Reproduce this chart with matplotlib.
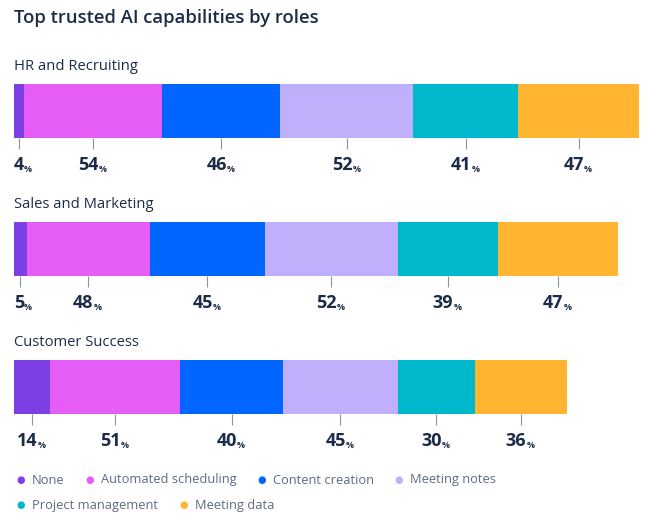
import numpy as np
import matplotlib.pyplot as plt

# data
roles = ['HR and Recruiting', 'Sales and Marketing', 'Customer Success']
capabilities = ['None', 'Automated scheduling', 'Content creation',
                'Meeting notes', 'Project management', 'Meeting data']
hr_values = [4, 54, 46, 52, 41, 47]
sales_values = [5, 48, 45, 52, 39, 47]
cs_values = [14, 51, 40, 45, 30, 36]

colors = ['#7b3fe4', '#e65cf6', '#0066ff', '#c0b0fb', '#00b8cc', '#ffb432']
dark = '#1b2b48'
grey = '#5f6b80'
plt.rcParams['font.family'] = ['Open Sans', 'DejaVu Sans']

fig = plt.figure(figsize=(6.72, 5.2), dpi=100)
fig.patch.set_facecolor('white')
# x in percent units, y in pixel-like layout units (top = 0)
ax = fig.add_axes([14 / 672, 0, 658 / 672, 1])
ax.set_xlim(0, 257)
ax.set_ylim(520, 0)
ax.axis('off')

fig.text(14 / 672, 1 - 18 / 520, 'Top trusted AI capabilities by roles',
         fontsize=13.3, fontweight='semibold', color=dark, va='center', ha='left')

bar_tops = [84, 222, 360]
bar_h = 54

for role, vals, top in zip(roles, [hr_values, sales_values, cs_values], bar_tops):
    ax.text(0, top - 17, role, fontsize=10.6, fontweight='medium', color=dark,
            va='center', ha='left')
    lefts = np.concatenate([[0], np.cumsum(vals)[:-1]])
    ax.barh(top, vals, left=lefts, height=bar_h, align='edge', color=colors,
            edgecolor='none')
    bottom = top + bar_h
    for v, l in zip(vals, lefts):
        cx = l + v / 2
        ax.vlines(cx, bottom, bottom + 11, color='#8a94a6', lw=0.8)
        if v < 8:
            num = ax.annotate(str(v), xy=(0, bottom + 32), ha='left',
                              va='baseline', fontsize=13, fontweight='bold',
                              color=dark)
        else:
            num = ax.annotate(str(v), xy=(cx, bottom + 32), xytext=(-3.5, 0),
                              textcoords='offset points', ha='center',
                              va='baseline', fontsize=13, fontweight='bold',
                              color=dark)
        ax.annotate('%', xy=(1, 0), xycoords=num, xytext=(0, 0),
                    textcoords='offset points', ha='left', va='bottom',
                    fontsize=6.5, fontweight='bold', color=dark)

# legend as flowing text items, two rows
rows = [capabilities[:4], capabilities[4:]]
row_colors = [colors[:4], colors[4:]]
row_y = [480, 505]
for names, cols, y in zip(rows, row_colors, row_y):
    prev = None
    for name, c in zip(names, cols):
        if prev is None:
            dot = ax.annotate('●', xy=(0, y), xytext=(2, 0),
                              textcoords='offset points', ha='left',
                              va='center', fontsize=7, color=c,
                              family=['DejaVu Sans'])
        else:
            dot = ax.annotate('●', xy=(1, 0.5), xycoords=prev, xytext=(15, 0),
                              textcoords='offset points', ha='left',
                              va='center', fontsize=7, color=c,
                              family=['DejaVu Sans'])
        prev = ax.annotate(name, xy=(1, 0.5), xycoords=dot, xytext=(5, 0),
                           textcoords='offset points', ha='left', va='center',
                           fontsize=9.3, color=grey)

fig.savefig('out.png', dpi=100, facecolor='white')
